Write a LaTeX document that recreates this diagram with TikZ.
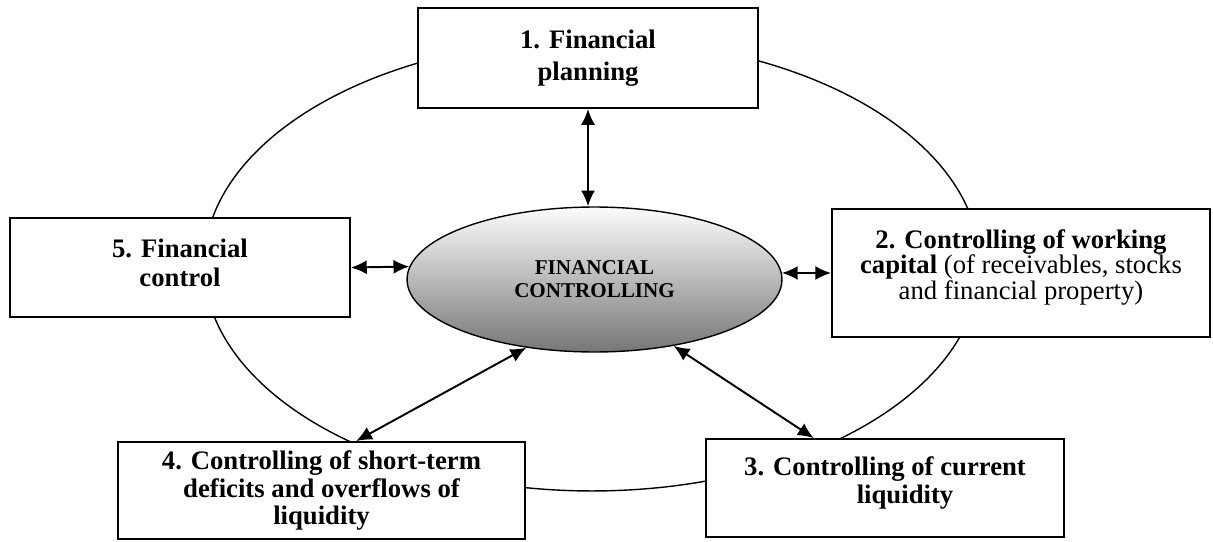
\documentclass[tikz,border=0pt]{standalone}
\usepackage{fontspec}
\setmainfont{Liberation Serif}
\usetikzlibrary{shapes.geometric,arrows.meta}
\definecolor{ovaltop}{RGB}{252,252,252}
\definecolor{ovalbottom}{RGB}{118,118,118}
\tikzset{
  stage/.style={draw, line width=1.1pt, fill=white, align=center, inner sep=2pt,
    font=\fontsize{15.2}{#1}\selectfont\bfseries},
  stage/.default=17,
  core/.style={ellipse, draw, line width=0.8pt, inner sep=0pt,
    minimum width=7.5cm, minimum height=2.9cm, top color=ovaltop, bottom color=ovalbottom,
    align=center, font=\fontsize{12}{13}\selectfont\bfseries},
  link/.style={line width=1.1pt, {Latex[length=9pt,width=8pt]}-{Latex[length=9pt,width=8pt]}},
}

\begin{document}
\begin{tikzpicture}[x=0.02cm,y=-0.02cm]
  \useasboundingbox (0,0) rectangle (1213,541);
  % outer cycle
  \draw[line width=0.8pt] (592,265) ellipse [x radius=7.76cm, y radius=4.52cm];
  % stages
  \node[stage=18, minimum width=6.8cm, minimum height=2cm] (plan) at (588,58) {1. Financial\\planning};
  \node[stage=14.5, text depth=10pt, minimum width=7.56cm, minimum height=2.56cm] (capital) at (1021,273)
    {2. Controlling of working\\capital {\mdseries (of receivables, stocks}\\{\mdseries and financial property)}};
  \node[stage=16, text depth=9pt, minimum width=7.16cm, minimum height=1.96cm] (liquid) at (885,488)
    {3. Controlling of current\\\hspace*{1.5em}liquidity};
  \node[stage=15.4, minimum width=8.14cm, minimum height=1.94cm] (deficit) at (321.5,490.5)
    {4. Controlling of short-term\\deficits and overflows of\\liquidity};
  \node[stage=17, text depth=5.5pt, minimum width=6.8cm, minimum height=1.98cm] (ctrl) at (180,267.5) {5. Financial\\control};
  % centre
  \node[core] (core) at (594.5,279.5) {FINANCIAL\\CONTROLLING};
  % links
  \draw[link] (plan.south) -- (plan.south |- core.north);
  \draw[link] (ctrl.east) -- (core.176);
  \draw[link] (core.2) -- (capital.west);
  \draw[link] (deficit.55) -- (core.225);
  \draw[link] (core.-40) -- (liquid.145);
\end{tikzpicture}
\end{document}
